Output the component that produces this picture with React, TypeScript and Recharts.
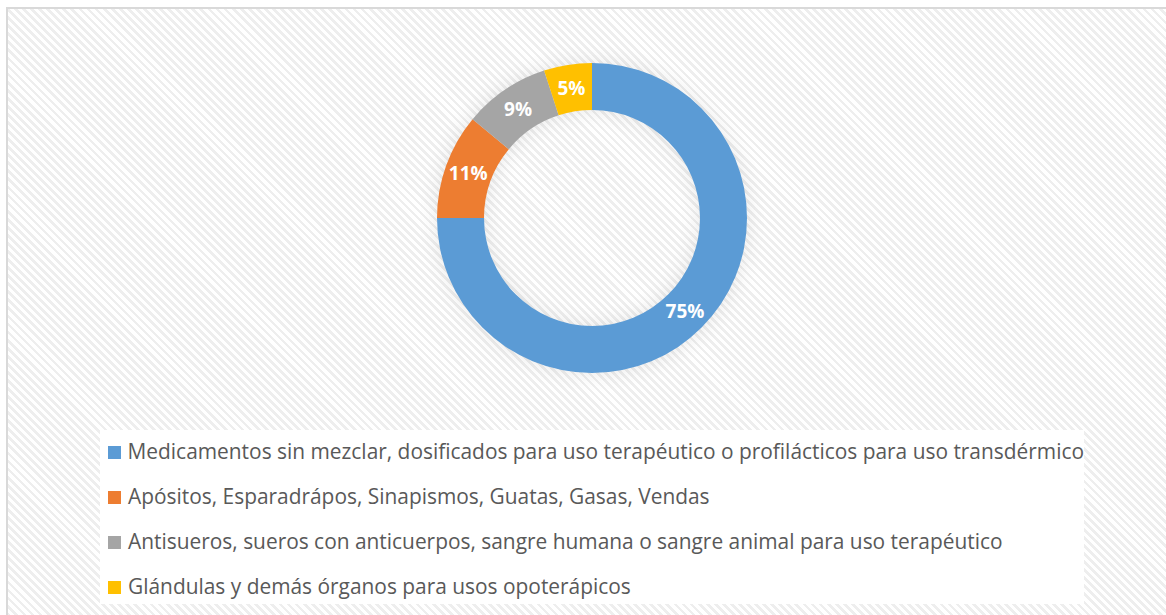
import React from "react";
import { PieChart, Pie, Cell, Legend } from "recharts";

const categories = [
  "Medicamentos sin mezclar, dosificados para uso terapéutico o profilácticos para uso transdérmico",
  "Apósitos, Esparadrápos, Sinapismos, Guatas, Gasas, Vendas",
  "Antisueros, sueros con anticuerpos, sangre humana o sangre animal para uso terapéutico",
  "Glándulas y demás órganos para usos opoterápicos",
];
const shares = [75, 11, 9, 5];
const colors = ["#5b9bd5", "#ed7d31", "#a5a5a5", "#ffc000"];

const data = categories.map((name, i) => ({ name, value: shares[i] }));

const RADIAN = Math.PI / 180;

function SliceLabel(props: any) {
  const { cx, cy, midAngle, innerRadius, outerRadius, value } = props;
  const r = (innerRadius + outerRadius) / 2;
  const x = cx + r * Math.cos(-midAngle * RADIAN);
  const y = cy + r * Math.sin(-midAngle * RADIAN);
  return (
    <text
      x={x}
      y={y}
      fill="#fff"
      textAnchor="middle"
      dominantBaseline="central"
      style={{ fontFamily: "'Open Sans', sans-serif", fontWeight: 700, fontSize: 19 }}
    >
      {`${value}%`}
    </text>
  );
}

function LegendBox() {
  return (
    <div
      style={{
        width: 984,
        height: 174,
        background: "#fff",
        boxSizing: "border-box",
        paddingLeft: 8,
      }}
    >
      <div style={{ position: "relative", top: -2 }}>
        {categories.map((name, i) => (
          <div
            key={name}
            style={{
              height: 45,
              display: "flex",
              alignItems: "center",
              fontFamily: "'Open Sans', sans-serif",
              fontSize: 20.9,
              color: "#595959",
              whiteSpace: "nowrap",
            }}
          >
            <span
              style={{
                display: "inline-block",
                width: 13,
                height: 13,
                background: colors[i],
                marginRight: 7,
                marginTop: 3,
              }}
            />
            {name}
          </div>
        ))}
      </div>
    </div>
  );
}

export default function App() {
  return (
    <div
      style={{
        position: "absolute",
        left: 0,
        top: 0,
        width: 1166,
        height: 615,
        overflow: "hidden",
        background: "#fff",
      }}
    >
      <style>{`.shadow-ring { filter: blur(7px); opacity: 0.35; }`}</style>
      <div
        style={{
          position: "absolute",
          left: 6,
          top: 7,
          width: 1200,
          height: 700,
          border: "2px solid #d9d9d9",
          background:
            "repeating-linear-gradient(45deg, #ffffff 0px, #ffffff 3px, #eeeeee 3px, #eeeeee 5.7px)",
        }}
      />
      <div style={{ position: "absolute", left: 0, top: 0 }}>
        <PieChart width={1166} height={615} margin={{ top: 0, right: 0, bottom: 0, left: 0 }}>
          <Pie
            className="shadow-ring"
            data={data}
            dataKey="value"
            cx={592}
            cy={218}
            innerRadius={108}
            outerRadius={155}
            startAngle={90}
            endAngle={-270}
            stroke="none"
            fill="#404040"
            legendType="none"
            label={false}
            isAnimationActive={false}
          />
          <Pie
            data={data}
            dataKey="value"
            cx={592}
            cy={218}
            innerRadius={108}
            outerRadius={155}
            startAngle={90}
            endAngle={-270}
            stroke="none"
            labelLine={false}
            label={SliceLabel}
            isAnimationActive={false}
          >
            {data.map((d, i) => (
              <Cell key={d.name} fill={colors[i]} />
            ))}
          </Pie>
          <Legend
            content={<LegendBox />}
            wrapperStyle={{ position: "absolute", left: 100, top: 430, width: 984, height: 174 }}
          />
        </PieChart>
      </div>
    </div>
  );
}
